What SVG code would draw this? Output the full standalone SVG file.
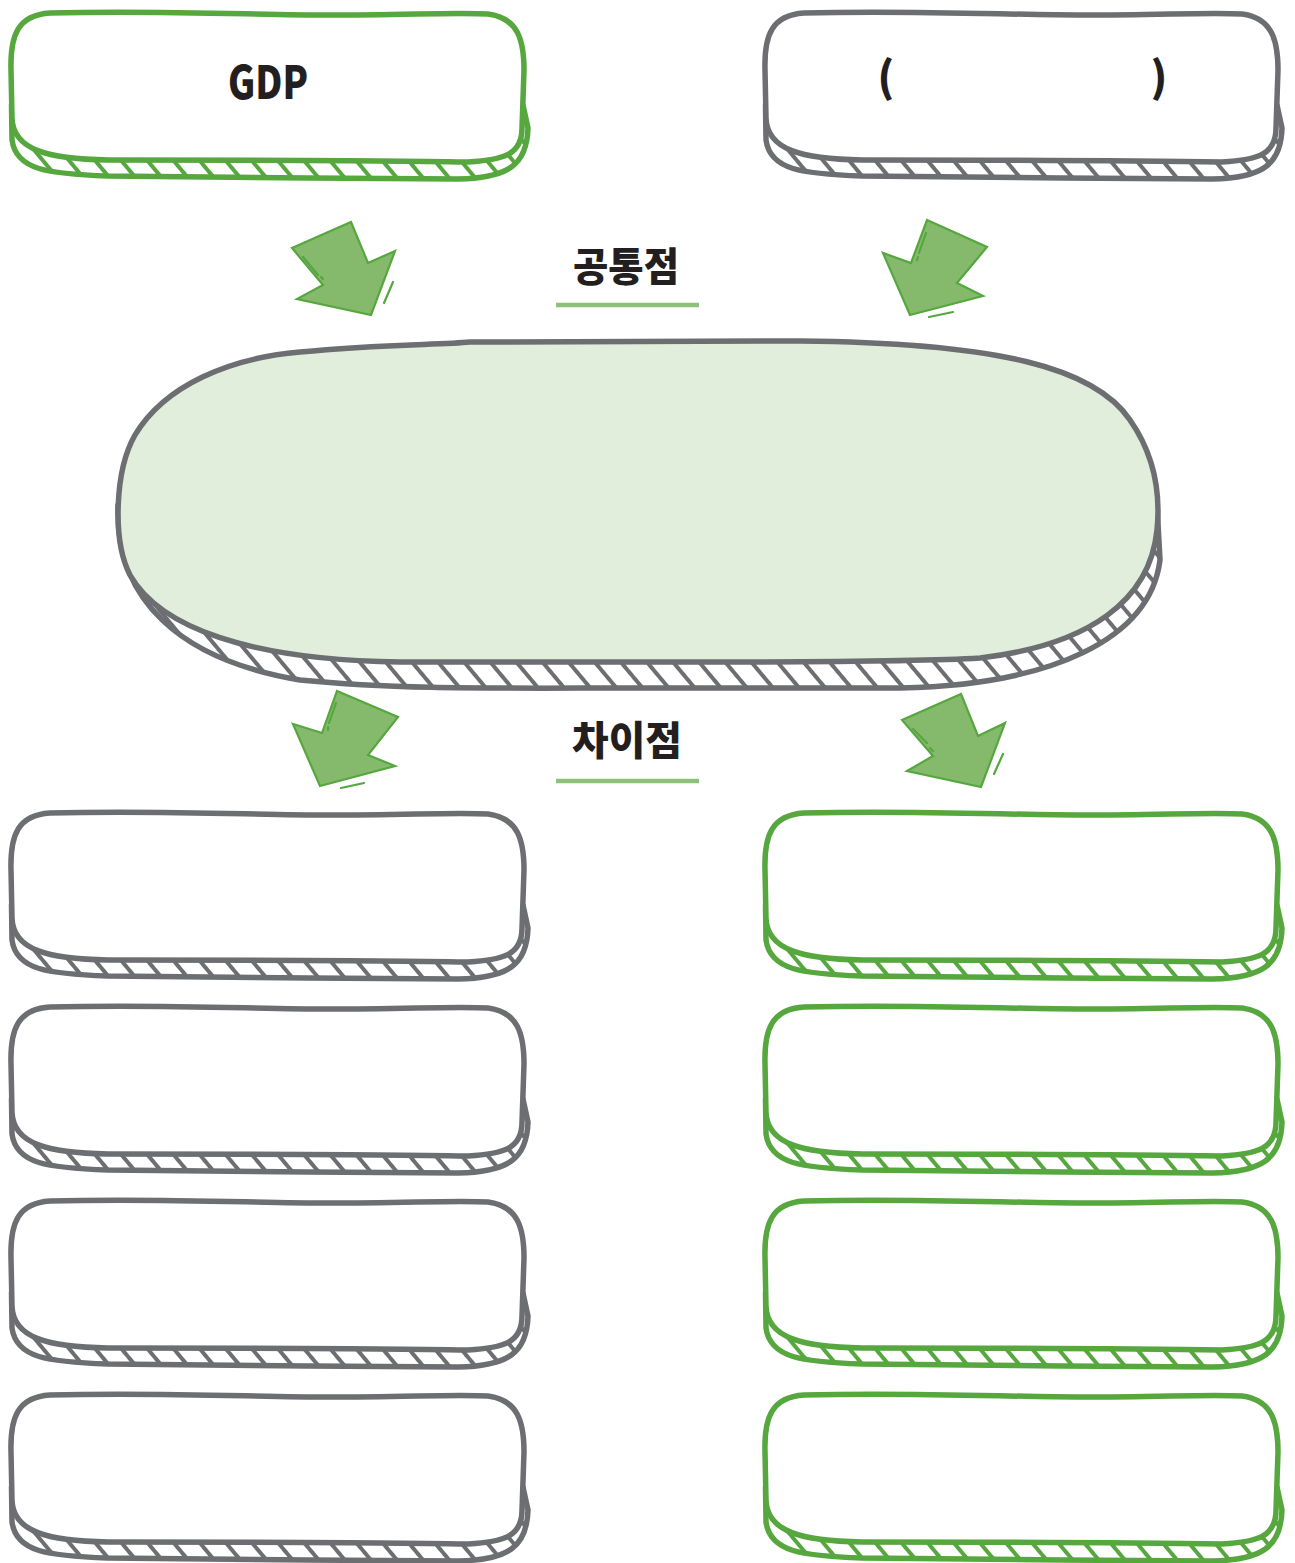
<svg xmlns="http://www.w3.org/2000/svg" xmlns:xlink="http://www.w3.org/1999/xlink" width="1295" height="1563" viewBox="0 0 1295 1563">
<style>
.g .band{fill:url(#hatchG);stroke:#55a73e}
.g .face{fill:#fff;stroke:#55a73e}
.k .band{fill:url(#hatchK);stroke:#6d6e71}
.k .face{fill:#fff;stroke:#6d6e71}
.band,.face{stroke-width:5.5;stroke-linejoin:round}
.lbl{font-family:"Noto Sans CJK KR","Noto Sans",sans-serif;font-weight:900;fill:#231f20}
.arrow{fill:#85ba6d;stroke:#55a73e;stroke-width:2.2;stroke-linejoin:miter}
.deco{stroke:#55a73e;stroke-width:2.2;fill:none;stroke-linecap:round}
.ul{stroke:#8dc17a;stroke-width:4.5}
</style>
<defs>
<pattern id="hatchG" patternUnits="userSpaceOnUse" width="20" height="20" patternTransform="rotate(-40)"><rect width="20" height="20" fill="#fff"/><line x1="10" y1="0" x2="10" y2="20" stroke="#55a73e" stroke-width="4"/></pattern>
<pattern id="hatchK" patternUnits="userSpaceOnUse" width="20" height="20" patternTransform="rotate(-40)"><rect width="20" height="20" fill="#fff"/><line x1="10" y1="0" x2="10" y2="20" stroke="#6d6e71" stroke-width="4"/></pattern>
<path id="bandShape" d="M3.5,95 L4,130 C8,160 40,164 100,166 L300,168 L450,169 C500,168 519,155 520,118 L515,95 Z"/>
<path id="faceShape" d="M42,3 C150,0 250,5 320,5 C400,5 450,2 480,4 C510,8 516,30 516,60 L514,118 C514,145 495,150 460,152 C350,150 200,150 100,150 C40,149 5,140 4,108 L3,60 C2,25 10,5 42,3 Z"/>
</defs>
<rect width="1295" height="1563" fill="#fff"/>

<g id="connectors">
<g id="arrow-tl"><polygon class="arrow" points="292,248 351,222 368,263 395,251 371,315 297,299 323,285"/><path class="deco" d="M303,257 L318,275 M321,277 L323,279 M393,282 L384,303"/></g>
<g id="arrow-tr"><polygon class="arrow" points="927,220 987,247 957,283 983,296 910,315 883,253 911,263"/><path class="deco" d="M926,233 L919,253 M918,257 L917,260 M929,317 L953,312"/></g>
<g id="arrow-bl"><polygon class="arrow" points="337,691 398,717 368,755 395,766 320,786 293,724 322,733"/><path class="deco" d="M336,703 L329,723 M328,727 L328,730 M341,788 L364,783"/></g>
<g id="arrow-br"><polygon class="arrow" points="902,720 961,694 978,736 1005,723 981,787 907,771 933,756"/><path class="deco" d="M913,729 L927,743 M930,748 L933,751 M1003,754 L994,774"/></g>
</g>

<g id="label-common">
<text class="lbl" x="626" y="281" font-size="40" text-anchor="middle" textLength="106" lengthAdjust="spacingAndGlyphs">공통점</text>
<line class="ul" x1="556" y1="305" x2="699" y2="305"/>
</g>
<g id="label-diff">
<text class="lbl" x="627" y="755" font-size="40" text-anchor="middle" textLength="110" lengthAdjust="spacingAndGlyphs">차이점</text>
<line class="ul" x1="556" y1="781" x2="699" y2="781"/>
</g>

<g id="center" class="k">
<path class="band" d="M118,505 C115,600 180,660 300,680 C400,690 500,688 640,688 L900,688 C1050,685 1150,640 1160,560 L1157,505 Z"/>
<path class="face" style="fill:#e2eedc" d="M300,352 C380,344 440,345 470,342 L800,341 C1000,343 1095,368 1130,420 C1158,460 1160,500 1157,530 C1150,600 1090,645 980,658 C900,663 700,662 600,662 L400,662 C250,660 160,628 130,575 C112,540 115,470 135,435 C165,385 230,358 300,352 Z"/>
</g>

<g id="box-gdp" class="g" transform="translate(8,10)"><use class="band" xlink:href="#bandShape"/><use class="face" xlink:href="#faceShape"/>
<text class="lbl" x="260" y="89" font-size="46" text-anchor="middle" textLength="80" lengthAdjust="spacingAndGlyphs">GDP</text></g>
<g id="box-other" class="k" transform="translate(762,10)"><use class="band" xlink:href="#bandShape"/><use class="face" xlink:href="#faceShape"/>
<text class="lbl" x="124" y="82" font-size="42" text-anchor="middle">(</text>
<text class="lbl" x="397" y="82" font-size="42" text-anchor="middle">)</text></g>

<g id="box-l1" class="k" transform="translate(8,810)"><use class="band" xlink:href="#bandShape"/><use class="face" xlink:href="#faceShape"/></g>
<g id="box-l2" class="k" transform="translate(8,1004)"><use class="band" xlink:href="#bandShape"/><use class="face" xlink:href="#faceShape"/></g>
<g id="box-l3" class="k" transform="translate(8,1198)"><use class="band" xlink:href="#bandShape"/><use class="face" xlink:href="#faceShape"/></g>
<g id="box-l4" class="k" transform="translate(8,1392)"><use class="band" xlink:href="#bandShape"/><use class="face" xlink:href="#faceShape"/></g>
<g id="box-r1" class="g" transform="translate(762,810)"><use class="band" xlink:href="#bandShape"/><use class="face" xlink:href="#faceShape"/></g>
<g id="box-r2" class="g" transform="translate(762,1004)"><use class="band" xlink:href="#bandShape"/><use class="face" xlink:href="#faceShape"/></g>
<g id="box-r3" class="g" transform="translate(762,1198)"><use class="band" xlink:href="#bandShape"/><use class="face" xlink:href="#faceShape"/></g>
<g id="box-r4" class="g" transform="translate(762,1392)"><use class="band" xlink:href="#bandShape"/><use class="face" xlink:href="#faceShape"/></g>
</svg>
